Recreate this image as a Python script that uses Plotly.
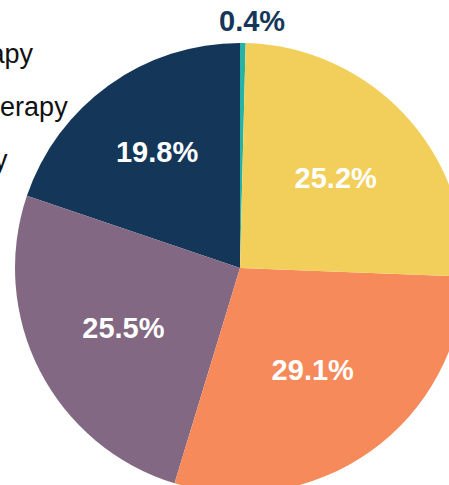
import plotly.graph_objects as go

# Slices in counter-clockwise order starting at 12 o'clock
slice_labels = ["Other", "Chemotherapy", "Radiation therapy", "Surgery only", "None"]
slice_values = [0.4, 19.8, 25.5, 29.1, 25.2]
slice_colors = ["#26B3A6", "#143759", "#826882", "#F68A5A", "#F2CF5B"]
text_positions = ["none", "inside", "inside", "inside", "inside"]

legend_labels = ["Chemotherapy", "Radiation therapy", "Surgery only", "Other", "None"]
title_text = "Treatment Received"

W, H = 465, 500
ML, MT = 15, 43
R = 225
LEG_FONT = "Liberation Sans, Arial, sans-serif"

fig = go.Figure(go.Pie(
    labels=slice_labels,
    values=slice_values,
    sort=False,
    direction="counterclockwise",
    rotation=0,
    marker=dict(colors=slice_colors, line=dict(width=0)),
    texttemplate="%{percent:.1%}",
    textposition=text_positions,
    insidetextorientation="horizontal",
    insidetextfont=dict(color="white", size=29, family="Liberation Sans"),
    textfont=dict(weight="bold"),
    hoverinfo="label+percent",
    showlegend=False,
))

total = sum(slice_values)
anns = []
# small-slice outside label
anns.append(dict(text="<b>%.1f%%</b>" % (slice_values[0] / total * 100),
                 xref="paper", yref="paper",
                 x=(252 - ML) / (2 * R), y=1 + (MT - 21) / (2 * R),
                 xanchor="center", yanchor="middle", showarrow=False,
                 font=dict(size=29, color="#143759", family="Liberation Sans")))
# title (mostly cropped above the visible area)
anns.append(dict(text="<b>" + title_text + "</b>", xref="paper", yref="paper",
                 x=(75 - ML) / (2 * R), xanchor="right",
                 y=1 + (MT - 10) / (2 * R), yanchor="bottom",
                 showarrow=False, font=dict(size=36, color="#111111", family="Liberation Sans")))
# legend texts (left aligned, cropped on the left)
for i, lab in enumerate(legend_labels):
    y_px = 54 + i * 53
    anns.append(dict(text=lab, xref="paper", yref="paper",
                     x=(-146 - ML) / (2 * R), xanchor="left",
                     y=1 - (y_px - MT) / (2 * R), yanchor="middle",
                     showarrow=False, font=dict(size=27, color="#111111", family=LEG_FONT)))

fig.update_layout(
    width=W, height=H,
    margin=dict(l=ML, r=W - ML - 2 * R, t=MT, b=H - MT - 2 * R, pad=0),
    paper_bgcolor="white", plot_bgcolor="white",
    annotations=anns,
)
fig.write_html("out.html",
               config={"displayModeBar": False},
               post_script="document.body.style.margin='0';document.body.style.overflow='hidden';")
